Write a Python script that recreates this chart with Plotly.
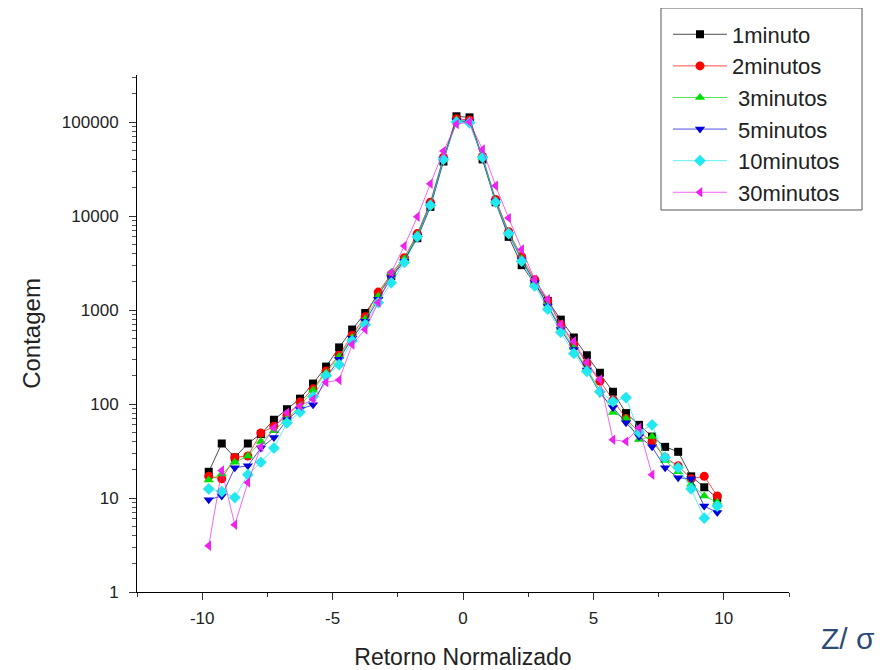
import plotly.graph_objects as go

# bin centres of the normalised return (Z / sigma)
RETORNO = [-9.75, -9.25, -8.75, -8.25, -7.75, -7.25, -6.75, -6.25, -5.75, -5.25,
           -4.75, -4.25, -3.75, -3.25, -2.75, -2.25, -1.75, -1.25, -0.75, -0.25,
           0.25, 0.75, 1.25, 1.75, 2.25, 2.75, 3.25, 3.75, 4.25, 4.75,
           5.25, 5.75, 6.25, 6.75, 7.25, 7.75, 8.25, 8.75, 9.25, 9.75]

MIN_1 = [19, 38, 27, 38, 48, 68, 88, 114, 165, 250,
         400, 620, 930, 1450, 2300, 3400, 5800, 12500, 38000, 115000,
         112000, 40000, 14000, 6000, 3000, 1900, 1250, 790, 510, 330,
         215, 135, 80, 60, 45, 35, 31, 17, 13, 10]
MIN_2 = [17, 16, 27, 28, 49, 58, 75, 105, 145, 225,
         330, 540, 850, 1550, 2400, 3600, 6500, 14000, 42000, 108000,
         105000, 43000, 15000, 6800, 3700, 2100, 1250, 700, 430, 270,
         175, 110, 70, 50, 40, 27, 22, 16, 17, 10.5]
MIN_3 = [15.5, 18, 24, 28, 40, 52, 70, 95, 140, 215,
         320, 510, 800, 1400, 2500, 3500, 6300, 13500, 41000, 105000,
         102000, 42000, 14500, 6600, 3500, 2000, 1150, 650, 400, 240,
         140, 81, 70, 42, 45, 25, 19, 14, 10.5, 9]
MIN_5 = [9.6, 10.5, 21, 22, 34, 44, 68, 88, 98, 190,
         300, 500, 760, 1300, 2200, 3300, 6100, 13200, 40000, 103000,
         100000, 41000, 14200, 6400, 3400, 1950, 1100, 620, 380, 230,
         130, 92, 63, 45, 35, 21, 16.4, 16, 8.2, 7]
MIN_10 = [12.5, 11.7, 10.1, 17.7, 24, 34, 63, 82, 120, 200,
          262, 470, 700, 1200, 1950, 3200, 6000, 13000, 40000, 100000,
          98000, 42000, 14000, 6500, 3300, 1800, 1020, 580, 345, 222,
          135, 106, 117, 50, 60, 27, 21, 12.5, 6.1, 8.2]
MIN_30 = [3.1, 19.6, 5.2, 14.6, 35, 56, 81, 95, 112, 170,
          180, 430, 620, 1200, 2500, 4800, 9800, 22000, 49000, 95000,
          100000, 51000, 21000, 9500, 4400, 2100, 1300, 700, 465, 277,
          182, 41.6, 40, 56, 17.7, None, None, None, None, None]

X_TICKS = [-10, -5, 0, 5, 10]
X_TICK_TEXT = ["-10", "-5", "0", "5", "10"]

SERIES = [
    ("1minuto", MIN_1, "#000000", "square"),
    ("2minutos", MIN_2, "#ff0000", "circle"),
    ("\u00a03minutos", MIN_3, "#00e000", "triangle-up"),
    ("\u00a05minutos", MIN_5, "#0000dd", "triangle-down"),
    ("\u00a010minutos", MIN_10, "#22e8f0", "diamond"),
    ("\u00a030minutos", MIN_30, "#ee22ee", "triangle-left"),
]

FONT = "Liberation Sans, Arial, sans-serif"

fig = go.Figure()
for name, values, color, symbol in SERIES:
    fig.add_trace(go.Scatter(
        x=RETORNO,
        y=values,
        name=name,
        mode="lines+markers",
        line=dict(color=color, width=0.7),
        marker=dict(symbol=symbol, color=color, size=9 if symbol != "square" else 8),
        connectgaps=False,
    ))

fig.update_layout(
    width=896,
    height=670,
    paper_bgcolor="white",
    plot_bgcolor="white",
    font=dict(family=FONT, color="#222222"),
    # the page adds an 8px body margin, so margins are pulled in by 8
    margin=dict(l=129, r=115, t=67, b=86, autoexpand=False),
    showlegend=True,
    legend=dict(
        x=0.8144,
        y=1.119,
        xanchor="left",
        yanchor="top",
        bgcolor="rgba(0,0,0,0)",
        borderwidth=0,
        itemwidth=54,
        font=dict(size=22, family=FONT, color="#222222"),
    ),
    xaxis=dict(
        range=[-12.5, 12.5],
        tickmode="array",
        tickvals=X_TICKS,
        ticktext=X_TICK_TEXT,
        ticks="outside",
        ticklen=7,
        tickcolor="#333333",
        ticklabelstandoff=4,
        showline=True,
        linecolor="black",
        linewidth=1,
        showgrid=False,
        zeroline=False,
        tickfont=dict(size=17),
        minor=dict(dtick=2.5, tick0=0, ticks="outside", ticklen=4, tickcolor="#333333"),
        title=dict(text="Retorno Normalizado", font=dict(size=23), standoff=21),
        automargin=False,
    ),
    yaxis=dict(
        type="log",
        range=[0, 5.5],
        dtick=1,
        ticks="outside",
        ticklen=7,
        tickcolor="#333333",
        ticklabelstandoff=7,
        showline=True,
        linecolor="black",
        linewidth=1,
        showgrid=False,
        zeroline=False,
        tickformat="d",
        tickfont=dict(size=17),
        minor=dict(dtick="D1", ticks="outside", ticklen=4, tickcolor="#555555"),
        title=dict(text="Contagem", font=dict(size=24), standoff=14),
        automargin=False,
    ),
)

# legend frame
fig.add_shape(
    type="rect",
    xref="paper", yref="paper",
    x0=0.8037, x1=1.112, y0=0.7389, y1=1.1296,
    line=dict(color="#555555", width=1),
    fillcolor="rgba(0,0,0,0)",
    layer="above",
)

fig.add_annotation(
    text="Z/ σ",
    xref="paper", yref="paper",
    x=1.0905, y=-0.089,
    xanchor="center", yanchor="middle",
    showarrow=False,
    font=dict(size=30, color="#2d4b79", family=FONT),
)

fig.write_html("out.html")
